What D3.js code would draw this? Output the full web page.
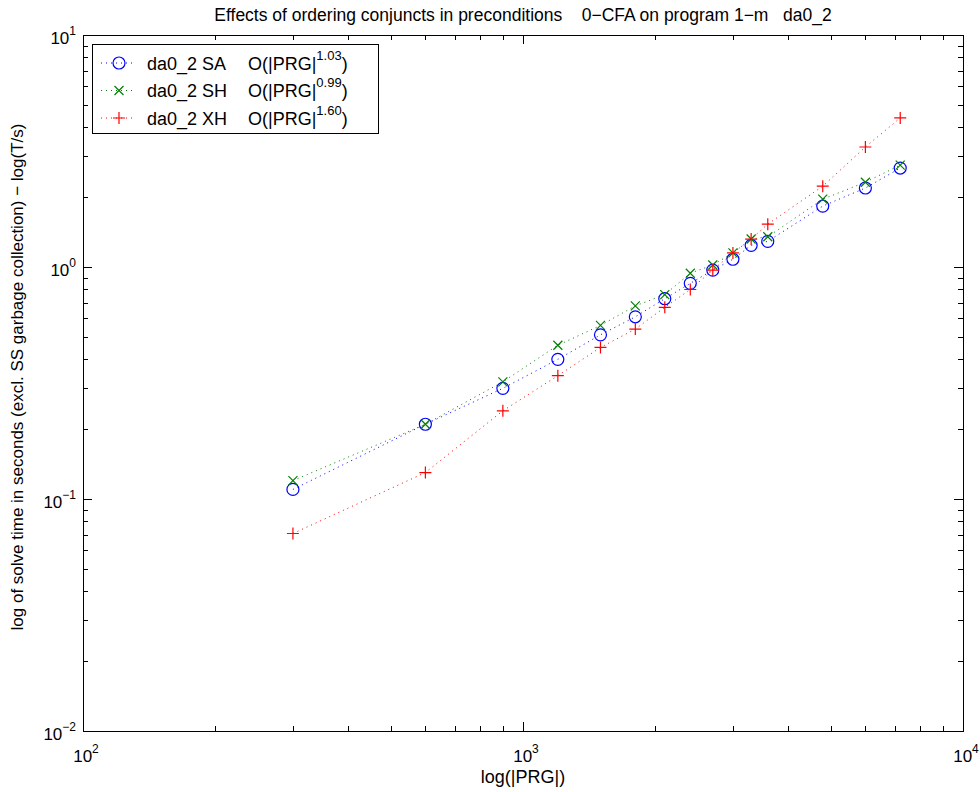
<!DOCTYPE html>
<html>
<head>
<meta charset="utf-8">
<script src="https://cdn.jsdelivr.net/npm/d3@7"></script>
<style>
  body { margin: 0; background: #fff; }
  svg { display: block; font-family: "Liberation Sans", Arial, Helvetica, sans-serif; }
  text { white-space: pre; }
</style>
</head>
<body>
<svg id="chart" width="980" height="792"></svg>
<script>
// ---- data ----
const programSizes = [300, 600, 900, 1200, 1500, 1800, 2100, 2400, 2700, 3000, 3300, 3600, 4800, 6000, 7200];
const saTimes = [0.11, 0.21, 0.30, 0.40, 0.51, 0.61, 0.73, 0.85, 0.97, 1.08, 1.24, 1.29, 1.83, 2.19, 2.67];
const shTimes = [0.12, 0.21, 0.32, 0.46, 0.56, 0.68, 0.76, 0.94, 1.02, 1.15, 1.32, 1.35, 1.96, 2.32, 2.75];
const xhTimes = [0.071, 0.13, 0.24, 0.34, 0.45, 0.54, 0.67, 0.80, 0.97, 1.15, 1.32, 1.53, 2.23, 3.29, 4.39];
const seriesNames = ["da0_2 SA", "da0_2 SH", "da0_2 XH"];
const seriesExponents = ["1.03", "0.99", "1.60"];
const seriesColors = ["#0000ff", "#008000", "#ff0000"];
const seriesMarkers = ["circle", "x", "plus"];
const xMajorTicks = [100, 1000, 10000];
const yMajorTicks = [0.01, 0.1, 1, 10];
const titleText = "Effects of ordering conjuncts in preconditions    0\u2212CFA on program 1\u2212m   da0_2";
const xLabelText = "log(|PRG|)";
const yLabelText = "log of solve time in seconds (excl. SS garbage collection) \u2212 log(T/s)";

const series = [saTimes, shTimes, xhTimes].map((vals, i) => ({
  name: seriesNames[i], exp: seriesExponents[i], color: seriesColors[i], marker: seriesMarkers[i],
  points: programSizes.map((x, j) => ({x, y: vals[j]}))
}));

// ---- layout ----
const L = 83, R = 963, T = 35, B = 731;
const svg = d3.select("#chart");
svg.append("rect").attr("width", 980).attr("height", 792).attr("fill", "#fff");

const x = d3.scaleLog().domain([100, 10000]).range([L, R]);
const y = d3.scaleLog().domain([0.01, 10]).range([B, T]);

function minorTicks(domain) {
  const out = [];
  for (let e = Math.log10(domain[0]); e < Math.log10(domain[1]); e++) {
    for (let k = 2; k <= 9; k++) out.push(k * Math.pow(10, e));
  }
  return out;
}
const xMinor = minorTicks(x.domain());
const yMinor = minorTicks(y.domain());

const g = svg.append("g");
const MAJ = 9, MIN = 5;
const tickStyle = sel => sel.attr("stroke", "#000").attr("stroke-width", 1).attr("shape-rendering", "crispEdges");

xMajorTicks.concat(xMinor).forEach(v => {
  const len = xMajorTicks.includes(v) ? MAJ : MIN;
  const px = Math.round(x(v)) + 0.5;
  g.append("line").attr("x1", px).attr("x2", px).attr("y1", B).attr("y2", B - len).call(tickStyle);
  g.append("line").attr("x1", px).attr("x2", px).attr("y1", T).attr("y2", T + len).call(tickStyle);
});
yMajorTicks.concat(yMinor).forEach(v => {
  const len = yMajorTicks.includes(v) ? MAJ : MIN;
  const py = Math.round(y(v)) + 0.5;
  g.append("line").attr("y1", py).attr("y2", py).attr("x1", L).attr("x2", L + len).call(tickStyle);
  g.append("line").attr("y1", py).attr("y2", py).attr("x1", R).attr("x2", R - len).call(tickStyle);
});

g.append("rect").attr("x", L + 0.5).attr("y", T + 0.5).attr("width", R - L).attr("height", B - T)
  .attr("fill", "none").attr("stroke", "#000").attr("stroke-width", 1).attr("shape-rendering", "crispEdges");

// tick labels
const FS = 17, SUP = 12;
xMajorTicks.forEach(v => {
  const t = svg.append("text").attr("x", x(v) + 3).attr("y", 762).attr("text-anchor", "middle")
    .attr("font-size", FS).attr("fill", "#000");
  t.append("tspan").text("10");
  t.append("tspan").attr("font-size", SUP).attr("dy", -9).text(Math.round(Math.log10(v)));
});
yMajorTicks.forEach(v => {
  const e = Math.round(Math.log10(v));
  const t = svg.append("text").attr("x", 76).attr("y", y(v) + 9).attr("text-anchor", "end")
    .attr("font-size", FS).attr("fill", "#000");
  t.append("tspan").text("10");
  t.append("tspan").attr("font-size", SUP).attr("dy", -9).text(e < 0 ? "\u2212" + (-e) : String(e));
});

// titles
svg.append("text").attr("x", (L + R) / 2).attr("y", 21).attr("text-anchor", "middle")
  .attr("font-size", 17.5).text(titleText);
svg.append("text").attr("x", (L + R) / 2).attr("y", 783).attr("text-anchor", "middle")
  .attr("font-size", 18).text(xLabelText);
svg.append("text").attr("transform", `translate(23,${(T + B) / 2 - 6}) rotate(-90)`).attr("text-anchor", "middle")
  .attr("font-size", 17).text(yLabelText);

function drawMarker(sel, type, cx, cy, color) {
  if (type === "circle") {
    sel.append("circle").attr("cx", cx).attr("cy", cy).attr("r", 6)
      .attr("fill", "none").attr("stroke", color).attr("stroke-width", 1.2);
  } else if (type === "x") {
    const s = 4.5;
    sel.append("path").attr("d", `M${cx - s},${cy - s}L${cx + s},${cy + s}M${cx - s},${cy + s}L${cx + s},${cy - s}`)
      .attr("stroke", color).attr("stroke-width", 1.2).attr("fill", "none");
  } else {
    const s = 6;
    sel.append("path").attr("d", `M${cx - s},${cy}L${cx + s},${cy}M${cx},${cy - s}L${cx},${cy + s}`)
      .attr("stroke", color).attr("stroke-width", 1.2).attr("fill", "none");
  }
}

const line = d3.line().x(d => x(d.x)).y(d => y(d.y));
const plot = svg.append("g");
series.forEach(s => {
  plot.append("path").datum(s.points).attr("d", line).attr("fill", "none")
    .attr("stroke", s.color).attr("stroke-width", 1).attr("stroke-dasharray", "1,4");
});
series.forEach(s => {
  const mg = plot.append("g");
  s.points.forEach(p => drawMarker(mg, s.marker, x(p.x), y(p.y), s.color));
});

// legend
const LFS = 18, LSUP = 13;
const lg = svg.append("g");
lg.append("rect").attr("x", 92.5).attr("y", 44.5).attr("width", 286).attr("height", 89)
  .attr("fill", "#fff").attr("stroke", "#000").attr("stroke-width", 1).attr("shape-rendering", "crispEdges");
series.forEach((s, i) => {
  const cy = 63 + i * 27.5;
  lg.append("line").attr("x1", 101).attr("x2", 136).attr("y1", cy).attr("y2", cy)
    .attr("stroke", s.color).attr("stroke-width", 1).attr("stroke-dasharray", "1,4");
  drawMarker(lg, s.marker, 119, cy, s.color);
  lg.append("text").attr("x", 147).attr("y", cy + 6.5).attr("font-size", LFS).text(s.name);
  const t = lg.append("text").attr("x", 248).attr("y", cy + 6.5).attr("font-size", LFS);
  t.append("tspan").text("O(|PRG|");
  t.append("tspan").attr("font-size", LSUP).attr("dy", -10).text(s.exp);
  t.append("tspan").attr("dy", 10).text(")");
});
</script>
</body>
</html>
